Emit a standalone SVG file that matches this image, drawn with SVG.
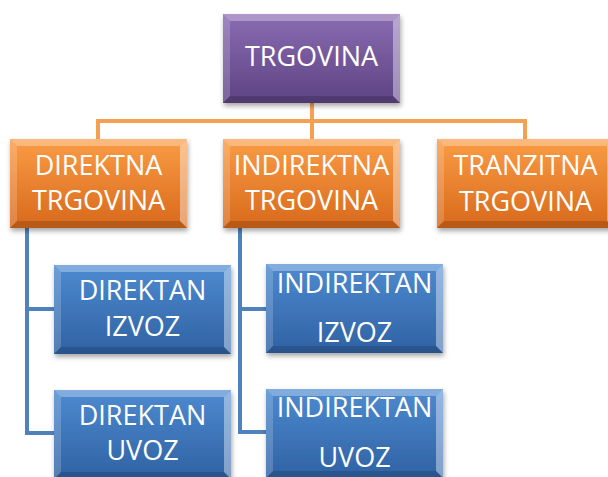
<svg xmlns="http://www.w3.org/2000/svg" width="608" height="477" viewBox="0 0 608 477">
<style>
.t{font-family:"Open Sans","Noto Sans","Liberation Sans",sans-serif;font-size:27px;fill:#ffffff;text-anchor:middle}
.co{fill:none;stroke:#f8a052;stroke-width:4}
.cb{fill:none;stroke:#4f81bd;stroke-width:4}
</style>
<defs>
<linearGradient id="gP" x1="0" y1="0" x2="0" y2="1"><stop offset="0" stop-color="#8a6cb2"/><stop offset="1" stop-color="#5d4383"/></linearGradient>
<linearGradient id="gO" x1="0" y1="0" x2="0" y2="1"><stop offset="0" stop-color="#fa9c45"/><stop offset="1" stop-color="#d8691c"/></linearGradient>
<linearGradient id="gB" x1="0" y1="0" x2="0" y2="1"><stop offset="0" stop-color="#4d8ad0"/><stop offset="1" stop-color="#2f62a3"/></linearGradient>
<filter id="sh" x="-10%" y="-10%" width="125%" height="130%"><feDropShadow dx="1" dy="3" stdDeviation="2.5" flood-color="#000" flood-opacity="0.35"/></filter>
<g id="bev">
<polygon points="0,0 177,0 170,7 7,7" fill="#fff" fill-opacity="0.3"/>
<polygon points="0,0 7,7 7,82 0,89" fill="#fff" fill-opacity="0.18"/>
<polygon points="177,0 177,89 170,82 170,7" fill="#fff" fill-opacity="0.4"/>
<polygon points="0,89 177,89 170,82 7,82" fill="#000" fill-opacity="0.15"/>
</g>
</defs>
<g id="connectors">
<path class="co" d="M312,102 V121 M98,139 V121 H525 V139 M312,121 V139"/>
<path class="cb" d="M27,228 V433 H54 M27,309 H54 M240,228 V432 H266 M240,309 H266"/>
</g>
<g id="trgovina" transform="translate(223,14)">
<rect width="177" height="89" fill="url(#gP)" filter="url(#sh)"/><use href="#bev"/>
<text class="t" x="88.5" y="52">TRGOVINA</text>
</g>
<g id="direktna" transform="translate(10,139)">
<rect width="177" height="89" fill="url(#gO)" filter="url(#sh)"/><use href="#bev"/>
<text class="t" x="88.5" y="36">DIREKTNA</text><text class="t" x="88.5" y="71">TRGOVINA</text>
</g>
<g id="indirektna" transform="translate(223,139)">
<rect width="177" height="89" fill="url(#gO)" filter="url(#sh)"/><use href="#bev"/>
<text class="t" x="88.5" y="36">INDIREKTNA</text><text class="t" x="88.5" y="71">TRGOVINA</text>
</g>
<g id="tranzitna" transform="translate(437,139)">
<rect width="177" height="89" fill="url(#gO)" filter="url(#sh)"/><use href="#bev"/>
<text class="t" x="88.5" y="36">TRANZITNA</text><text class="t" x="88.5" y="72">TRGOVINA</text>
</g>
<g id="direktan-izvoz" transform="translate(54,265)">
<rect width="177" height="89" fill="url(#gB)" filter="url(#sh)"/><use href="#bev"/>
<text class="t" x="88.5" y="35">DIREKTAN</text><text class="t" x="88.5" y="71">IZVOZ</text>
</g>
<g id="direktan-uvoz" transform="translate(54,390)">
<rect width="177" height="89" fill="url(#gB)" filter="url(#sh)"/><use href="#bev"/>
<text class="t" x="88.5" y="35">DIREKTAN</text><text class="t" x="88.5" y="70">UVOZ</text>
</g>
<g id="indirektan-izvoz" transform="translate(266,264)">
<rect width="177" height="89" fill="url(#gB)" filter="url(#sh)"/><use href="#bev"/>
<text class="t" x="88.5" y="29">INDIREKTAN</text><text class="t" x="88.5" y="78">IZVOZ</text>
</g>
<g id="indirektan-uvoz" transform="translate(266,389)">
<rect width="177" height="89" fill="url(#gB)" filter="url(#sh)"/><use href="#bev"/>
<text class="t" x="88.5" y="28">INDIREKTAN</text><text class="t" x="88.5" y="78">UVOZ</text>
</g>
</svg>
